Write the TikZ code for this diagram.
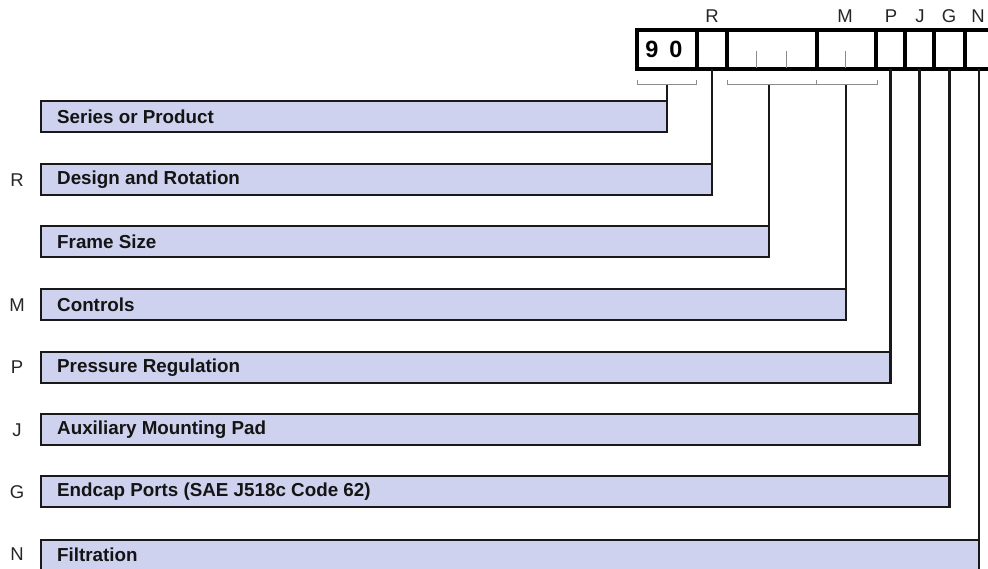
\documentclass[tikz,border=0pt]{standalone}
\usepackage{fontspec}
\setmainfont{Liberation Sans}
\begin{document}
\begin{tikzpicture}[x=1pt,y=-1pt,
  bar/.style={draw=black!90, line width=2.1pt, fill=barfill, anchor=north west, minimum height=31pt, inner sep=0pt, outer sep=0pt},
  bartext/.style={anchor=west, font=\fontsize{18.8}{20}\selectfont\bfseries, text=black!92, inner sep=0pt},
  sidelet/.style={font=\fontsize{18.5}{20}\selectfont, text=black!85, inner sep=0pt},
  toplet/.style={font=\fontsize{18.5}{20}\selectfont, text=black!85, inner sep=0pt},
  cell/.style={draw=black, line width=3.3pt, anchor=north west, minimum height=39pt, inner sep=0pt, outer sep=0pt},
  conn/.style={draw=black!90, line width=2.3pt},
  brk/.style={draw=black!45, line width=1pt},
  tick/.style={draw=black!45, line width=1pt}
]
\definecolor{barfill}{HTML}{CED2EE}
\useasboundingbox (0,0) rectangle (988,569);
\begin{scope}
\clip (0,0) rectangle (988,569);
% code box cells
\node[cell, minimum width=60pt] (c90) at (637,30) {};
\node[cell, minimum width=30pt] (cR) at (697,30) {};
\node[cell, minimum width=90pt] (cF) at (727,30) {};
\node[cell, minimum width=59pt] (cM) at (817,30) {};
\node[cell, minimum width=29pt] (cP) at (876,30) {};
\node[cell, minimum width=29pt] (cJ) at (905,30) {};
\node[cell, minimum width=31pt] (cG) at (934,30) {};
\node[cell, minimum width=28pt] (cN) at (965,30) {};
\node[font=\fontsize{23.5}{25}\selectfont\bfseries, inner sep=0pt] (n9) at (652,49) {9};
\node[font=\fontsize{23.5}{25}\selectfont\bfseries, inner sep=0pt] (n0) at (676,49) {0};
% thin ticks in cells
\draw[tick] (756,51) -- (756,68);
\draw[tick] (786,51) -- (786,68);
\draw[tick] (845,51) -- (845,68);
% top letters
\node[toplet] (tR) at (712,16) {R};
\node[toplet] (tM) at (845,16) {M};
\node[toplet] (tP) at (891,16) {P};
\node[toplet] (tJ) at (920,16) {J};
\node[toplet] (tG) at (949,16) {G};
\node[toplet] (tN) at (978,16) {N};
% brackets
\draw[brk] (637.5,80) -- (637.5,85) -- (696,85) -- (696,80);
\draw[brk] (727,80) -- (727,85) -- (877,85) -- (877,80);
\draw[brk] (816,80) -- (816,85);
\coordinate (b90) at (667,85);
\coordinate (bF) at (769,85);
\coordinate (bM) at (846,85);
% bars
\node[bar, minimum width=626pt] (b1) at (41,101) {};
\node[bar, minimum width=671pt] (b2) at (41,164) {};
\node[bar, minimum width=728pt] (b3) at (41,226) {};
\node[bar, minimum width=805pt] (b4) at (41,289) {};
\node[bar, minimum width=849.5pt] (b5) at (41,352) {};
\node[bar, minimum width=878.5pt] (b6) at (41,414) {};
\node[bar, minimum width=908.5pt] (b7) at (41,476) {};
\node[bar, minimum width=938pt] (b8) at (41,540) {};
% bar texts
\node[bartext] (t1) at (57,117) {Series or Product};
\node[bartext] (t2) at (57,180) {Design and Rotation};
\node[bartext] (t3) at (57,242) {Frame Size};
\node[bartext] (t4) at (57,305) {Controls};
\node[bartext] (t5) at (57,368) {Pressure Regulation};
\node[bartext] (t6) at (57,430) {Auxiliary Mounting Pad};
\node[bartext] (t7) at (57,492) {Endcap Ports (SAE J518c Code 62)};
\node[bartext] (t8) at (57,555) {Filtration};
% side letters
\node[sidelet] (sR) at (17,180) {R};
\node[sidelet] (sM) at (17,305) {M};
\node[sidelet] (sP) at (17,367) {P};
\node[sidelet] (sJ) at (17,430) {J};
\node[sidelet] (sG) at (17,492) {G};
\node[sidelet] (sN) at (17,554) {N};
% connectors
\draw[conn] (b90) -- (b1.north east);
\draw[conn] (cR.south) -- (b2.north east);
\draw[conn] (bF) -- (b3.north east);
\draw[conn] (bM) -- (b4.north east);
\draw[conn] (cP.south) -- (b5.north east);
\draw[conn] (cJ.south) -- (b6.north east);
\draw[conn] (cG.south) -- (b7.north east);
\draw[conn] (cN.south) -- (b8.north east);
\end{scope}
\end{tikzpicture}
\end{document}
